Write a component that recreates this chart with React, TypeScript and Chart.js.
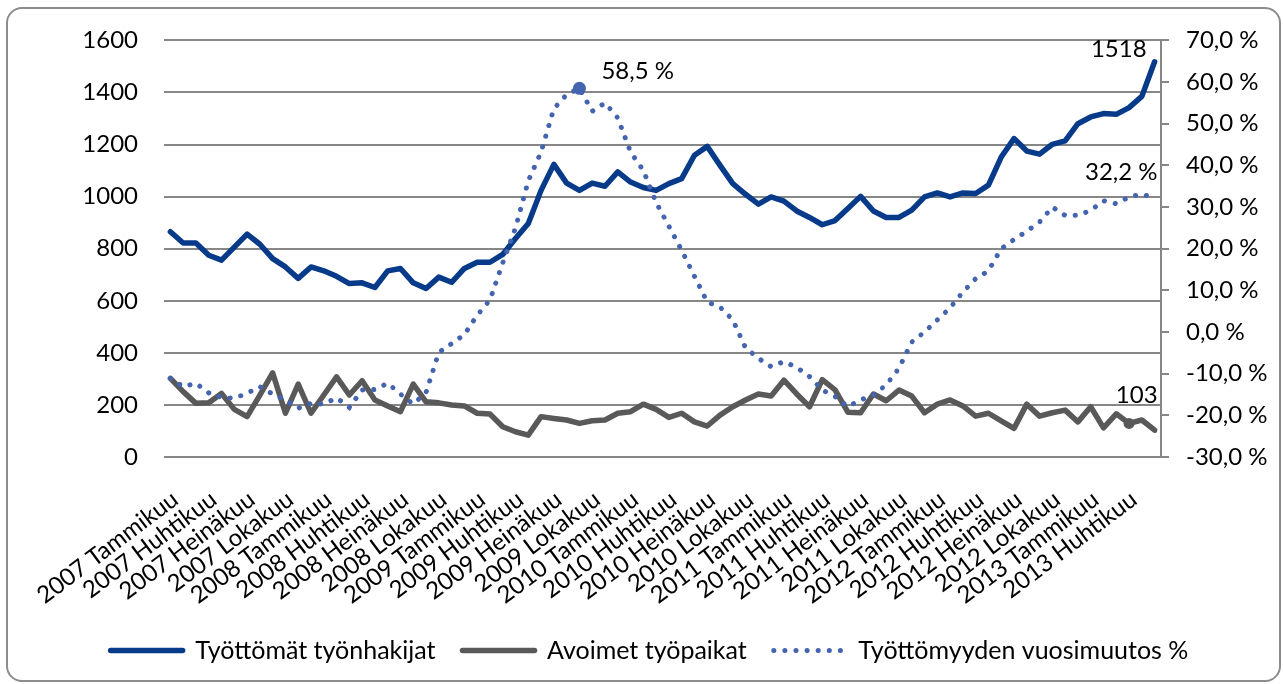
import React, { useEffect, useRef } from 'react';
import { Chart, registerables } from 'chart.js';

Chart.register(...registerables);

// ---------- data ----------
const years = [2007, 2008, 2009, 2010, 2011, 2012, 2013];
const monthNames = [
  'Tammikuu', 'Helmikuu', 'Maaliskuu', 'Huhtikuu', 'Toukokuu', 'Kesäkuu',
  'Heinäkuu', 'Elokuu', 'Syyskuu', 'Lokakuu', 'Marraskuu', 'Joulukuu',
];
const lastMonthOf2013 = 6; // data runs to 2013 Kesäkuu

const categories: string[] = [];
years.forEach((y) => {
  const n = y === 2013 ? lastMonthOf2013 : 12;
  for (let m = 0; m < n; m++) categories.push(`${y} ${monthNames[m]}`);
});

// Työttömät työnhakijat (left axis)
const unemployed = [
  865, 822, 822, 775, 756, 806, 856, 817, 762, 730,
  686, 730, 715, 694, 666, 669, 651, 715, 724, 669,
  647, 691, 671, 724, 748, 748, 778, 839, 897, 1024,
  1124, 1052, 1024, 1052, 1040, 1095, 1056, 1035, 1024, 1050,
  1069, 1159, 1193, 1120, 1050, 1009, 971, 999, 983, 945,
  920, 892, 908, 954, 1001, 945, 920, 920, 948, 999,
  1014, 999, 1014, 1012, 1044, 1152, 1223, 1175, 1163, 1201,
  1214, 1280, 1306, 1319, 1316, 1342, 1385, 1518,
];

// Avoimet työpaikat (left axis)
const vacancies = [
  302, 251, 206, 208, 244, 183, 155, 238, 323, 168,
  280, 168, 238, 308, 238, 293, 219, 196, 174, 280,
  212, 208, 200, 196, 168, 165, 116, 97, 84, 155,
  148, 142, 129, 139, 142, 168, 174, 203, 183, 152,
  168, 135, 119, 161, 193, 219, 242, 234, 295, 242,
  193, 297, 258, 172, 170, 242, 216, 257, 234, 170,
  203, 219, 196, 157, 168, 139, 110, 203, 157, 170,
  180, 135, 193, 112, 166, 129, 142, 103,
];

// Työttömyyden vuosimuutos % (right axis)
const yearlyChange = [
  -11.1, -13.1, -12.3, -14.6, -15.7, -15.9, -14.7, -13.1, -14.9, -16.3,
  -18.3, -17.1, -17.3, -15.8, -18.1, -13.9, -13.8, -12.3, -14.9, -17.3,
  -14.5, -4.9, -2.8, -0.6, 4.0, 7.7, 16.6, 25.0, 36.3, 43.2,
  53.6, 57.0, 58.5, 53.0, 55.0, 51.4, 43.2, 38.8, 31.1, 25.4,
  19.6, 13.4, 7.2, 6.0, 2.9, -3.8, -6.3, -8.3, -7.1, -8.5,
  -10.7, -13.9, -15.5, -17.9, -16.3, -15.1, -12.7, -8.7, -2.4, 0.0,
  2.9, 5.8, 9.6, 12.8, 14.7, 20.0, 22.2, 24.2, 26.4, 30.0,
  28.0, 28.0, 29.2, 31.5, 30.8, 32.4, 33.1, 32.2,
];

const seriesNames = ['Työttömät työnhakijat', 'Avoimet työpaikat', 'Työttömyyden vuosimuutos %'];

const leftTicks = { min: 0, max: 1600, step: 200 };
const rightTicks = { min: -30, max: 70, step: 10 };

const vacancyMarkerIndex = 75;
// ---------- styles ----------
const BLUE = '#073B8A';
const GREY = '#595959';
const DOT = '#4564AF';
const GRID = '#878787';
const FONT = 'Lato';
const FS = 24;
const LEGEND_FS = 25;

const pctFmt = (v: number) => v.toFixed(1).replace('.', ',') + ' %';

const lastIdx = unemployed.length - 1;
const peakIdx = yearlyChange.indexOf(Math.max(...yearlyChange));

const dataLabels = [
  { ds: 0, idx: lastIdx, text: String(unemployed[lastIdx]), align: 'right', dx: -8, dy: -12 },
  { ds: 2, idx: lastIdx, text: pctFmt(yearlyChange[lastIdx]), align: 'right', dx: 3, dy: -26 },
  { ds: 1, idx: lastIdx, text: String(vacancies[lastIdx]), align: 'right', dx: 3, dy: -35 },
  { ds: 2, idx: peakIdx, text: pctFmt(yearlyChange[peakIdx]), align: 'left', dx: 22, dy: -17 },
];

const W = 1283;
const H = 684;
const PAD_BOTTOM = 11;
const PLOT_BOTTOM = 457;

const labelPlugin = {
  id: 'valueLabels',
  afterDatasetsDraw(chart: any) {
    const ctx = chart.ctx;
    ctx.save();
    ctx.font = `${FS}px ${FONT}`;
    ctx.fillStyle = '#000';
    ctx.textBaseline = 'middle';
    dataLabels.forEach((l) => {
      const pt = chart.getDatasetMeta(l.ds).data[l.idx];
      if (!pt) return;
      ctx.textAlign = l.align;
      ctx.fillText(l.text, pt.x + l.dx, pt.y + l.dy);
    });
    ctx.restore();
  },
};

export default function App() {
  const ref = useRef<HTMLCanvasElement | null>(null);

  useEffect(() => {
    let chart: Chart | null = null;
    let cancelled = false;
    const make = () => {
      if (cancelled || !ref.current) return;
      Chart.defaults.font.family = FONT;
      Chart.defaults.font.size = FS;
      Chart.defaults.color = '#000';
      chart = new Chart(ref.current, {
        type: 'line',
        data: {
          labels: categories,
          datasets: [
            {
              label: seriesNames[0],
              data: unemployed,
              yAxisID: 'y',
              borderColor: BLUE,
              backgroundColor: BLUE,
              borderWidth: 5.5,
              pointRadius: 0,
              borderJoinStyle: 'round',
              borderCapStyle: 'round',
              order: 2,
            },
            {
              label: seriesNames[1],
              data: vacancies,
              yAxisID: 'y',
              borderColor: GREY,
              backgroundColor: GREY,
              borderWidth: 5.5,
              pointRadius: (c: any) => (c.dataIndex === vacancyMarkerIndex ? 5.5 : 0),
              pointBorderWidth: 0,
              pointBackgroundColor: GREY,
              borderJoinStyle: 'round',
              borderCapStyle: 'round',
              order: 1,
            },
            {
              label: seriesNames[2],
              data: yearlyChange,
              yAxisID: 'y1',
              borderColor: DOT,
              backgroundColor: DOT,
              borderWidth: 5,
              borderDash: [0.1, 11],
              borderCapStyle: 'round',
              pointRadius: (c: any) => (c.dataIndex === peakIdx ? 6.5 : 0),
              pointBorderWidth: 0,
              pointBackgroundColor: DOT,
              order: 0,
            },
          ],
        },
        options: {
          responsive: false,
          animation: false,
          events: [],
          layout: { padding: { left: 16, right: 0, top: 40, bottom: PAD_BOTTOM } },
          plugins: {
            tooltip: { enabled: false },
            legend: {
              position: 'bottom',
              labels: {
                usePointStyle: true,
                pointStyle: 'line',
                pointStyleWidth: 72,
                padding: 27,
                color: '#000',
                font: { size: LEGEND_FS, family: FONT },
                generateLabels: (chart: any) =>
                  chart.data.datasets.map((ds: any, i: number) => ({
                    text: ds.label,
                    fillStyle: ds.borderColor,
                    strokeStyle: ds.borderColor,
                    lineWidth: ds.borderWidth,
                    lineDash: ds.borderDash || [],
                    lineCap: 'round',
                    lineJoin: 'round',
                    pointStyle: 'line',
                    fontColor: '#000',
                    hidden: false,
                    datasetIndex: i,
                  })),
              },
            },
          },
          scales: {
            x: {
              type: 'category',
              offset: true,
              grid: { display: false },
              border: { display: false },
              ticks: {
                autoSkip: false,
                minRotation: 37,
                maxRotation: 37,
                padding: 20,
                labelOffset: 5,
                font: { size: FS, family: FONT },
                color: '#000',
                callback: (_v: any, i: number) => (i % 3 === 0 ? categories[i] : ''),
              },
              afterFit: (s: any) => {
                const lh = s.chart.legend ? s.chart.legend.height : 0;
                s.height = H - PAD_BOTTOM - lh - PLOT_BOTTOM;
              },
            },
            y: {
              position: 'left',
              min: leftTicks.min,
              max: leftTicks.max,
              ticks: {
                stepSize: leftTicks.step,
                padding: 26,
                font: { size: FS, family: FONT },
                color: '#000',
                callback: (v: any) => String(v),
              },
              grid: { color: GRID, lineWidth: 2, drawTicks: false },
              border: { display: false },
              afterFit: (s: any) => {
                s.width = 148;
              },
            },
            y1: {
              position: 'right',
              min: rightTicks.min,
              max: rightTicks.max,
              ticks: {
                stepSize: rightTicks.step,
                padding: 17,
                font: { size: FS, family: FONT },
                color: '#000',
                callback: (v: any) => pctFmt(Number(v)),
              },
              grid: { drawOnChartArea: false, color: GRID, lineWidth: 2, tickLength: 8 },
              border: { display: true, color: GRID, width: 2 },
              afterFit: (s: any) => {
                s.width = 122;
              },
            },
          },
        },
        plugins: [labelPlugin],
      } as any);
    };
    if ((document as any).fonts && (document as any).fonts.load) {
      (document as any).fonts.load(`${FS}px ${FONT}`).then(make, make);
    } else {
      make();
    }
    return () => {
      cancelled = true;
      if (chart) chart.destroy();
    };
  }, []);

  return (
    <div style={{ position: 'absolute', left: 0, top: 0, width: W, height: H }}>
      <div
        style={{
          position: 'absolute',
          left: 6,
          top: 7,
          width: 1275,
          height: 675,
          border: '2px solid #8c8c8c',
          borderRadius: 16,
          boxSizing: 'border-box',
        }}
      />
      <canvas
        ref={ref}
        width={W}
        height={H}
        style={{ position: 'absolute', left: 0, top: 0, width: W, height: H }}
      />
    </div>
  );
}
